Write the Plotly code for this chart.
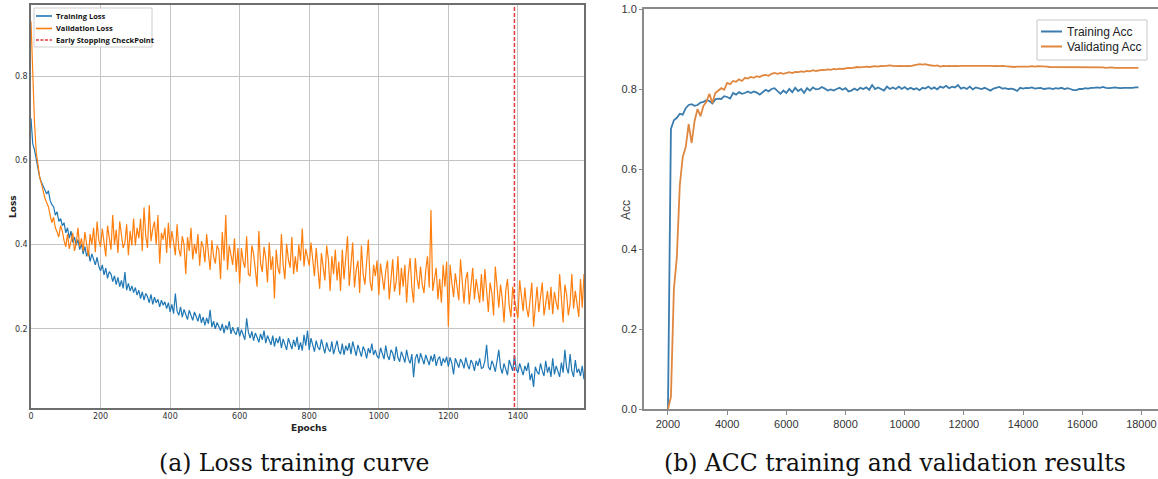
import plotly.graph_objects as go

# ---------------- data ----------------
# loss curves, sampled every 5 epochs (values in thousandths of loss)
loss_epochs = list(range(0, 1600, 5))
train_loss_milli = [
    700,640,625,600,585,560,548,540,530,520,528,505,495,490,470,478,455,462,445,452,
    428,440,415,432,405,418,398,412,388,402,378,395,372,385,360,378,366,352,370,348,
    338,352,328,344,320,336,330,312,326,305,322,300,315,296,335,292,308,290,302,286,
    298,280,292,272,288,268,284,276,262,282,258,275,262,270,252,268,256,264,248,262,
    240,258,236,284,242,232,252,228,246,236,222,244,230,220,240,226,218,236,214,228,
    208,226,212,245,204,218,200,215,206,196,212,190,208,198,218,188,204,192,186,204,
    182,198,186,174,225,192,178,194,172,190,180,168,188,174,196,166,184,172,162,184,
    158,178,166,182,154,176,160,150,178,162,152,174,158,181,150,168,148,186,160,196,
    150,178,160,146,172,156,150,175,158,142,168,152,146,170,140,160,172,148,140,165,
    138,160,148,166,140,170,152,136,162,146,134,158,148,130,154,142,165,138,150,135,
    130,155,140,128,160,136,126,150,142,124,158,132,122,146,134,120,150,128,118,140,
     85,130,140,118,142,126,116,138,124,114,136,122,140,112,128,134,112,130,120,134,
    110,132,118, 92,130,116,108,128,120,106,132,114,104,126,118,100,124,112,130,106,
    108,124,162,110,102,124,114, 98,130,150,108, 94,118,106, 90,126,112,100,138,104,
     96,118,104, 90,112,100,120, 78, 94, 62,110, 98, 92,118,100, 88,124, 96,110, 86,
    130, 92,112,100, 86,120, 96,150,108, 94,140,100, 86,126, 96,105, 88,112, 80, 95,
]
val_loss_milli = [
    930,800,690,620,590,560,545,525,510,500,490,470,452,465,440,430,418,445,432,410,
    395,425,390,408,428,385,402,440,395,415,385,430,405,372,425,400,440,382,455,410,
    395,438,405,372,445,410,388,470,400,435,380,455,418,392,405,448,375,432,398,462,
    398,440,415,462,385,488,420,392,494,408,438,455,400,470,355,428,412,440,380,452,
    392,432,405,375,448,390,372,420,400,330,418,385,440,365,402,378,425,350,408,395,
    358,425,380,340,410,372,355,398,388,318,430,362,470,340,398,375,352,415,335,392,
    308,392,360,345,420,330,325,398,378,340,300,432,356,335,395,368,310,405,340,372,
    272,388,345,330,425,352,318,402,365,345,418,330,372,335,400,362,438,348,390,370,
    350,405,372,325,392,345,295,380,352,315,398,365,290,372,330,388,315,360,290,388,
    318,372,420,302,355,405,298,340,362,285,398,330,305,368,412,312,290,352,325,362,
    280,355,315,292,338,362,270,330,365,288,312,372,280,345,300,352,262,330,368,298,
    262,368,320,295,348,305,285,340,372,298,482,290,325,345,270,318,262,352,300,360,
    205,352,310,275,332,298,268,365,305,260,318,335,258,300,345,270,318,290,262,330,
    265,342,292,240,310,285,232,348,300,250,305,272,215,290,318,255,228,300,270,242,
    225,315,270,242,298,250,228,275,310,205,262,300,240,282,310,232,268,290,245,300,
    235,288,262,245,330,270,215,305,282,232,260,330,248,290,262,228,318,250,330,285,
]
early_stop_epoch = 1390

acc_steps = list(range(2000, 18000, 100))
train_acc = [
    0.000,0.700,0.722,0.728,0.738,0.736,0.752,0.760,0.762,0.758,
    0.760,0.766,0.768,0.772,0.770,0.764,0.774,0.776,0.775,0.782,
    0.780,0.776,0.790,0.786,0.792,0.788,0.790,0.794,0.790,0.794,
    0.791,0.786,0.792,0.798,0.794,0.800,0.802,0.795,0.788,0.796,
    0.790,0.800,0.792,0.803,0.795,0.800,0.790,0.802,0.796,0.804,
    0.799,0.800,0.805,0.801,0.796,0.799,0.796,0.800,0.803,0.798,
    0.802,0.794,0.796,0.801,0.797,0.803,0.800,0.804,0.798,0.810,
    0.800,0.804,0.800,0.796,0.806,0.800,0.804,0.800,0.806,0.800,
    0.805,0.799,0.803,0.799,0.802,0.797,0.803,0.801,0.806,0.800,
    0.804,0.799,0.806,0.803,0.808,0.802,0.806,0.804,0.810,0.801,
    0.804,0.800,0.806,0.799,0.804,0.802,0.800,0.803,0.799,0.796,
    0.801,0.803,0.805,0.801,0.802,0.800,0.801,0.799,0.795,0.803,
    0.801,0.803,0.802,0.804,0.801,0.802,0.803,0.800,0.801,0.802,
    0.800,0.802,0.801,0.803,0.800,0.802,0.800,0.797,0.797,0.800,
    0.800,0.802,0.801,0.803,0.803,0.804,0.803,0.805,0.803,0.802,
    0.803,0.804,0.803,0.802,0.803,0.803,0.802,0.803,0.804,0.804,
]
val_acc = [
    0.000,0.030,0.300,0.380,0.560,0.630,0.655,0.712,0.665,0.720,
    0.750,0.732,0.758,0.768,0.788,0.765,0.790,0.795,0.802,0.798,
    0.815,0.812,0.820,0.818,0.824,0.820,0.828,0.826,0.830,0.828,
    0.832,0.830,0.834,0.835,0.833,0.838,0.840,0.838,0.840,0.838,
    0.840,0.842,0.840,0.843,0.842,0.844,0.843,0.845,0.844,0.847,
    0.845,0.846,0.848,0.847,0.849,0.848,0.850,0.849,0.851,0.850,
    0.852,0.853,0.852,0.854,0.855,0.854,0.855,0.856,0.855,0.856,
    0.857,0.856,0.858,0.857,0.858,0.859,0.858,0.857,0.858,0.857,
    0.857,0.858,0.857,0.859,0.860,0.862,0.861,0.862,0.860,0.859,
    0.858,0.859,0.856,0.858,0.857,0.858,0.857,0.858,0.857,0.858,
    0.858,0.859,0.858,0.859,0.858,0.859,0.858,0.858,0.859,0.858,
    0.857,0.858,0.857,0.858,0.857,0.856,0.856,0.855,0.856,0.856,
    0.855,0.856,0.856,0.857,0.856,0.857,0.857,0.856,0.856,0.855,
    0.855,0.855,0.855,0.854,0.855,0.855,0.855,0.854,0.855,0.854,
    0.855,0.854,0.854,0.855,0.854,0.854,0.854,0.854,0.853,0.854,
    0.854,0.853,0.853,0.854,0.853,0.853,0.853,0.853,0.853,0.853,
]

loss_xticks = [0, 200, 400, 600, 800, 1000, 1200, 1400]
loss_yticks = [0.2, 0.4, 0.6, 0.8]
acc_xticks = [2000, 4000, 6000, 8000, 10000, 12000, 14000, 16000, 18000]
acc_xticktext = ["2000", "4000", "6000", "8000", "10000", "12000", "14000", "16000", "18000"]
acc_yticks = [0.0, 0.2, 0.4, 0.6, 0.8, 1.0]

loss_names = ["Training Loss", "Validation Loss", "Early Stopping CheckPoint"]
acc_names = ["Training Acc", "Validating Acc"]

train_loss = [v / 1000 for v in train_loss_milli]
val_loss = [v / 1000 for v in val_loss_milli]

# ---------------- styles ----------------
C_TL, C_VL, C_ES = "#1f77b4", "#ff7f0e", "#e8383b"
C_TA, C_VA = "#3a7cad", "#e0873f"

W, H = 1158, 479
def px(x):
    return x / W
def py(y):
    return 1 - y / H

fig = go.Figure()
fig.add_trace(go.Scatter(x=loss_epochs, y=train_loss, mode="lines", name=loss_names[0],
                         line=dict(color=C_TL, width=1.2), xaxis="x", yaxis="y"))
fig.add_trace(go.Scatter(x=loss_epochs, y=val_loss, mode="lines", name=loss_names[1],
                         line=dict(color=C_VL, width=1.2), xaxis="x", yaxis="y"))
fig.add_trace(go.Scatter(x=[early_stop_epoch, early_stop_epoch], y=[0.0, 1.0], mode="lines",
                         name=loss_names[2],
                         line=dict(color=C_ES, width=1.5, dash="4px,2px"), xaxis="x", yaxis="y"))
fig.add_trace(go.Scatter(x=acc_steps, y=train_acc, mode="lines", name=acc_names[0],
                         line=dict(color=C_TA, width=1.8), xaxis="x2", yaxis="y2"))
fig.add_trace(go.Scatter(x=acc_steps, y=val_acc, mode="lines", name=acc_names[1],
                         line=dict(color=C_VA, width=1.8), xaxis="x2", yaxis="y2"))

small = dict(family="DejaVu Sans", size=8, color="#333333")
acc_font = dict(family="Liberation Sans", size=11, color="#333333")

shapes = []
annotations = []

def note(text, x, y, font, xanchor="center", angle=0):
    annotations.append(dict(text=text, x=px(x), y=py(y), xref="paper", yref="paper",
                            xanchor=xanchor, yanchor="middle", showarrow=False,
                            textangle=angle, font=font))

# legend box for loss panel
shapes.append(dict(type="rect", xref="paper", yref="paper", x0=px(34), x1=px(152), y0=py(47), y1=py(8),
                   line=dict(color="#cfcfcf", width=1), fillcolor="rgba(255,255,255,0.92)", layer="above"))
for name, yy, col, dsh in zip(loss_names, [16, 28.5, 40], [C_TL, C_VL, C_ES],
                              ["solid", "solid", "3px,1.5px"]):
    shapes.append(dict(type="line", xref="paper", yref="paper", x0=px(36), x1=px(52), y0=py(yy), y1=py(yy),
                       line=dict(color=col, width=1.6, dash=dsh), layer="above"))
    note("<b>%s</b>" % name, 53.5, yy, dict(family="Open Sans", size=7.5, color="#111"), xanchor="left")

# legend box for acc panel
shapes.append(dict(type="rect", xref="paper", yref="paper", x0=px(1037), x1=px(1147), y0=py(60), y1=py(20),
                   line=dict(color="#c8c8c8", width=1), fillcolor="white", layer="above"))
for name, yy, col in zip(acc_names, [31.5, 46.5], [C_TA, C_VA]):
    shapes.append(dict(type="line", xref="paper", yref="paper", x0=px(1041), x1=px(1062), y0=py(yy), y1=py(yy),
                       line=dict(color=col, width=2), layer="above"))
    note(name, 1065, yy, dict(family="Liberation Sans", size=12, color="#222"), xanchor="left")

# axis titles
note("<b>Loss</b>", 13, 207, dict(family="DejaVu Sans", size=9, color="#222"), angle=-90)
note("<b>Epochs</b>", 309, 428, dict(family="DejaVu Sans", size=9, color="#222"))
note("Acc", 626, 210, dict(family="Liberation Sans", size=12, color="#444"), angle=-90)

# captions
note("(a) Loss training curve", 294, 463, dict(family="DejaVu Serif", size=23.5, color="#111"))
note("(b) ACC training and validation results", 895, 463, dict(family="DejaVu Serif", size=23.5, color="#111"))

fig.update_layout(
    width=W, height=H,
    margin=dict(l=0, r=0, t=0, b=0, autoexpand=False),
    paper_bgcolor="white", plot_bgcolor="white",
    showlegend=False,
    xaxis=dict(domain=[px(31), px(584)], range=[0, 1590], tickvals=loss_xticks,
               showgrid=True, gridcolor="#c4c4c4", gridwidth=1,
               showline=True, linecolor="#6e6e6e", linewidth=1.5, mirror=True,
               ticks="", tickfont=small, zeroline=False, anchor="y", automargin=False),
    yaxis=dict(domain=[py(408), py(5)], range=[0.012, 0.969], tickvals=loss_yticks,
               showgrid=True, gridcolor="#c4c4c4", gridwidth=1,
               showline=True, linecolor="#6e6e6e", linewidth=1.5, mirror=True,
               ticks="", tickfont=small, zeroline=False, anchor="x", automargin=False),
    xaxis2=dict(domain=[px(644), 1.0], range=[1190, 18560], tickvals=acc_xticks, ticktext=acc_xticktext,
                showgrid=False, showline=True, linecolor="#8a8a8a", linewidth=2, mirror=True,
                ticks="outside", ticklen=4, tickcolor="#8a8a8a", tickfont=acc_font,
                zeroline=False, anchor="y2", automargin=False),
    yaxis2=dict(domain=[py(409), py(9)], range=[0, 1.0], tickvals=acc_yticks, tickformat=".1f",
                showgrid=False, showline=True, linecolor="#8a8a8a", linewidth=2, mirror=False,
                ticks="outside", ticklen=3, tickcolor="#8a8a8a", tickfont=acc_font,
                zeroline=False, anchor="x2", automargin=False),
    shapes=shapes,
    annotations=annotations,
)

# remove the default 8px page margin so the figure sits at the window's corner; hide the modebar
fig.write_html("out.html", config={"displayModeBar": False},
               post_script="document.body.style.margin='0px';")
